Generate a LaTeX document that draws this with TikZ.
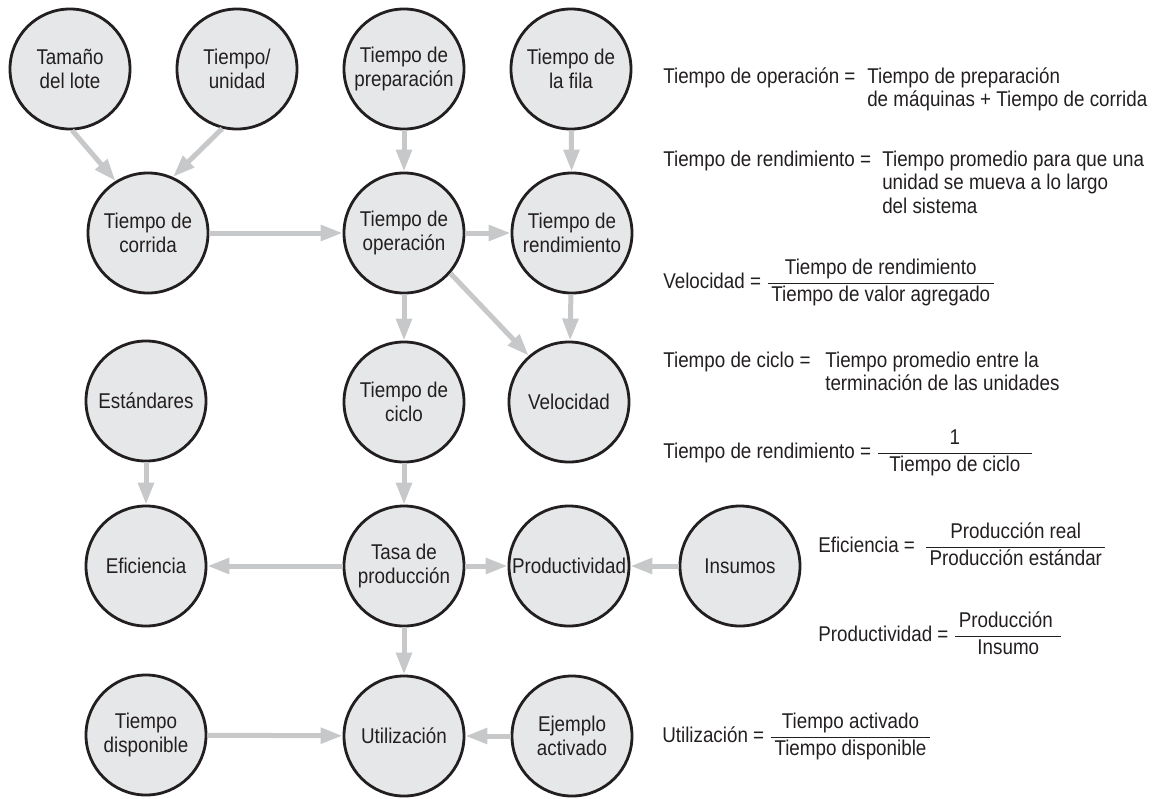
\documentclass[tikz,border=0pt]{standalone}
\usepackage{amsmath}
\usepackage{fontspec}
\setmainfont{Liberation Sans}[FakeStretch=0.88]
\usepackage{xcolor}
\usetikzlibrary{arrows.meta}
\definecolor{BubbleFill}{HTML}{E6E7E8}
\definecolor{BubbleLine}{HTML}{231F20}
\definecolor{ArrowGray}{HTML}{C7C8CA}
\definecolor{TextDark}{HTML}{231F20}

\begin{document}
\begin{tikzpicture}[
  x=0.025cm, y=-0.025cm,
  >={Triangle[length=0.55cm, width=0.38cm]},
  flowarr/.style={->, line width=0.125cm, color=ArrowGray},
  bubble/.style={circle, draw=BubbleLine, fill=BubbleFill, line width=2pt,
                 minimum size=3cm, inner sep=0pt, align=center, text=TextDark,
                 font=\fontsize{15.2}{17}\selectfont},
  deftxt/.style={anchor=base west, inner sep=0pt, text=TextDark,
                 font=\fontsize{15.2}{17}\selectfont},
]
  \useasboundingbox (0,0) rectangle (1159,798);

  % Row 1: inputs
  \node[bubble] (lote)   at (70, 69)  {Tamaño\\del lote};
  \node[bubble] (unidad) at (237, 69) {Tiempo/\\unidad};
  \node[bubble] (prep)   at (404, 69) {Tiempo de\\preparación};
  \node[bubble] (fila)   at (571, 69) {Tiempo de\\la fila};

  % Row 2
  \node[bubble] (corrida) at (148, 233) {Tiempo de\\corrida};
  \node[bubble] (oper)    at (404, 233) {Tiempo de\\operación};
  \node[bubble] (rend)    at (572, 233) {Tiempo de\\rendimiento};

  % Row 3
  \node[bubble] (estand) at (146, 401) {Estándares};
  \node[bubble] (ciclo)  at (404, 402) {Tiempo de\\ciclo};
  \node[bubble] (veloc)  at (569, 402) {Velocidad};

  % Row 4
  \node[bubble] (efic)    at (146, 566) {Eficiencia};
  \node[bubble] (tasa)    at (404, 566) {Tasa de\\producción};
  \node[bubble] (product) at (569, 566) {Productividad};
  \node[bubble] (insumos) at (740, 566) {Insumos};

  % Row 5
  \node[bubble] (dispon)  at (146, 735) {Tiempo\\disponible};
  \node[bubble] (utiliz)  at (404, 736) {Utilización};
  \node[bubble] (ejemplo) at (572, 736) {Ejemplo\\activado};

  %% arrows
  \draw[flowarr] (lote.-88) -- (corrida.122);
  \draw[flowarr] (unidad.256) -- (corrida.66);
  \draw[flowarr] (prep) -- (oper);
  \draw[flowarr] (fila) -- (rend);
  \draw[flowarr] (corrida) -- (oper);
  \draw[flowarr] (oper) -- (rend);
  \draw[flowarr] (oper) -- (ciclo);
  \draw[flowarr] (oper.-41) -- (veloc.131);
  \draw[flowarr] (rend) -- (veloc);
  \draw[flowarr] (estand) -- (efic);
  \draw[flowarr] (ciclo) -- (tasa);
  \draw[flowarr] (tasa) -- (efic);
  \draw[flowarr] (tasa) -- (product);
  \draw[flowarr] (insumos) -- (product);
  \draw[flowarr] (tasa) -- (utiliz);
  \draw[flowarr] (dispon) -- (utiliz);
  \draw[flowarr] (ejemplo) -- (utiliz);

  %% definitions on the right
  \node[deftxt] (defOper) at (663, 83) {Tiempo de operación =};
  \node[deftxt] (defOperR) at (867, 83)
    {\begin{tabular}[t]{@{}l@{}}Tiempo de preparación\\de máquinas + Tiempo de corrida\end{tabular}};

  \node[deftxt] (defRend) at (663, 166) {Tiempo de rendimiento =};
  \node[deftxt] (defRendR) at (882, 166)
    {\begin{tabular}[t]{@{}l@{}}Tiempo promedio para que una\\unidad se mueva a lo largo\\del sistema\end{tabular}};

  \node[deftxt] (defVel) at (663, 288)
    {Velocidad = $\dfrac{\,\text{Tiempo de rendimiento}\,}{\,\text{Tiempo de valor agregado}\,}$};

  \node[deftxt] (defCiclo) at (663, 367) {Tiempo de ciclo =};
  \node[deftxt] (defCicloR) at (825, 367)
    {\begin{tabular}[t]{@{}l@{}}Tiempo promedio entre la\\terminación de las unidades\end{tabular}};

  \node[deftxt] (defRend2) at (663, 458)
    {Tiempo de rendimiento = $\dfrac{\text{1}}{\hspace{8pt}\text{Tiempo de ciclo}\hspace{8pt}}$};

  \node[deftxt] (defEfic) at (818, 552)
    {Eficiencia =\hspace{3pt} $\dfrac{\,\text{Producción real}\,}{\,\text{Producción estándar}\,}$};

  \node[deftxt] (defProd) at (818, 641)
    {Productividad = $\dfrac{\,\text{Producción}\hspace{6pt}}{\,\text{Insumo}\,}$};

  \node[deftxt] (defUtil) at (662, 742)
    {Utilización = $\dfrac{\,\text{Tiempo activado}\,}{\,\text{Tiempo disponible}\,}$};

\end{tikzpicture}
\end{document}
